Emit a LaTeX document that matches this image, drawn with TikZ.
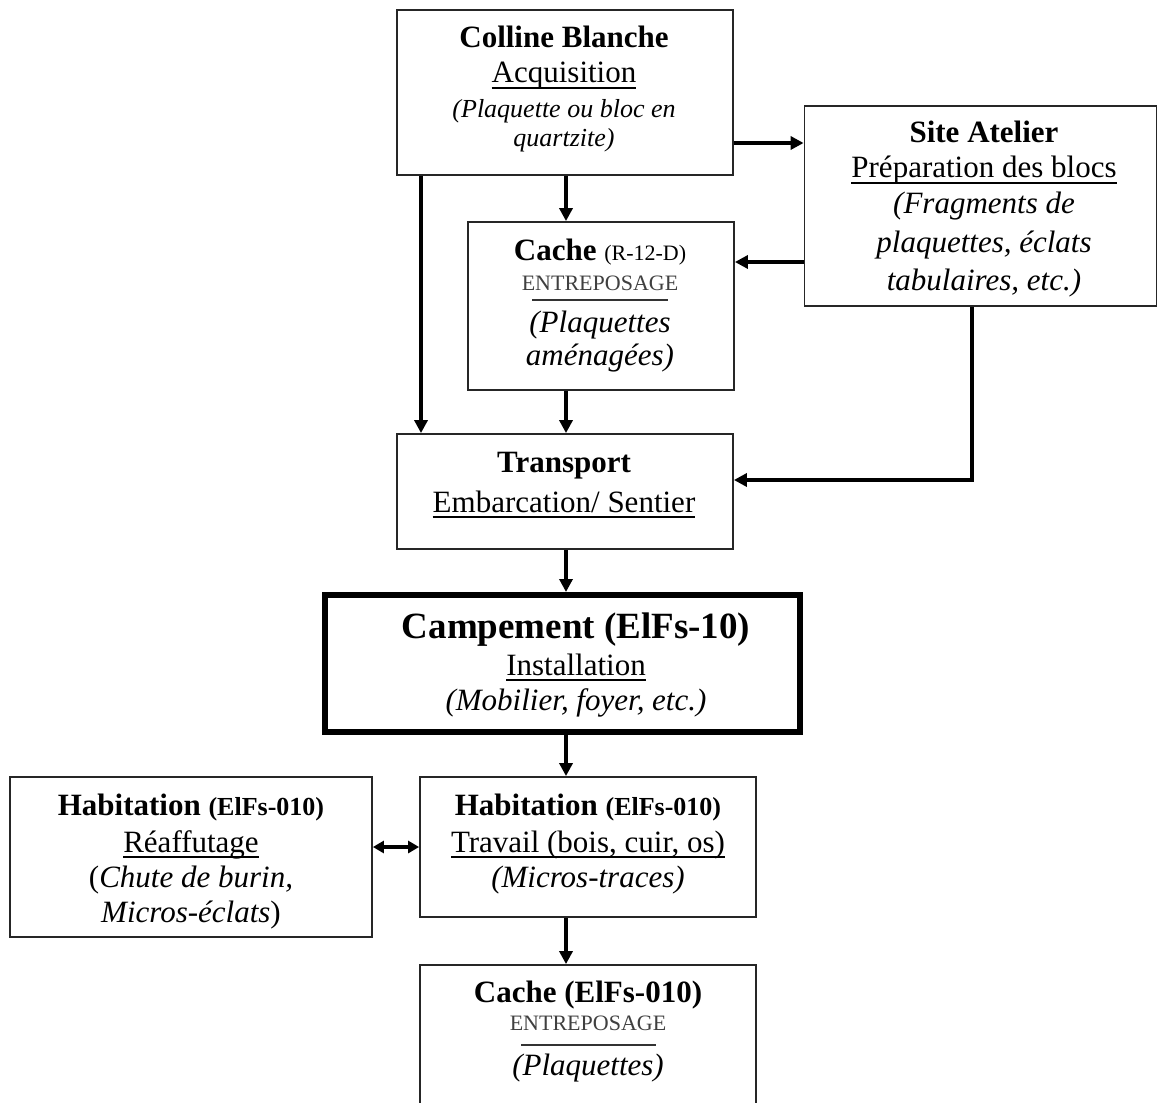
\documentclass[tikz,border=0pt]{standalone}
\usepackage{fontspec}
\setmainfont{Liberation Serif}
\usetikzlibrary{arrows.meta}
\newsavebox\ulboxx
\newcommand\ulx[1]{\sbox\ulboxx{#1}\rlap{\rule[-6pt]{\wd\ulboxx}{1.6pt}}\usebox\ulboxx}
\begin{document}
\begin{tikzpicture}[x=1pt,y=-1pt,
  box/.style={draw=black!85, line width=1.8pt, fill=white, inner sep=0pt},
  bigbox/.style={box, draw=black, line width=6pt},
  t/.style={anchor=base, inner sep=0pt, font=\fontsize{31}{36}\selectfont},
  tb/.style={anchor=base, inner sep=0pt, font=\bfseries\fontsize{31}{36}\selectfont},
  ti/.style={anchor=base, inner sep=0pt, font=\itshape\fontsize{31}{36}\selectfont},
  tis/.style={anchor=base, inner sep=0pt, font=\itshape\fontsize{26}{30}\selectfont},
  tsc/.style={anchor=base, inner sep=0pt, text=black!75, font=\fontsize{22}{26}\selectfont},
  arr/.style={line width=3.5pt, -{Triangle[length=13pt,width=13pt]}},
  darr/.style={line width=3.5pt, {Triangle[length=11pt,width=12pt]}-{Triangle[length=11pt,width=12pt]}},
  rulel/.style={line width=1.6pt, black!80}
]
\useasboundingbox (0,0) rectangle (1158,1102);
\fill[white] (0,0) rectangle (1158,1102);
\clip (0,0) rectangle (1158,1102);

% boxes
\node[box, minimum width=336pt, minimum height=165pt] (cb) at (565,92.5) {};
\node[box, minimum width=352pt, minimum height=200pt] (sa) at (980.5,206) {};
\node[box, minimum width=266pt, minimum height=168pt] (cr) at (601,306) {};
\node[box, minimum width=336pt, minimum height=115pt] (tr) at (565,491.5) {};
\node[bigbox, minimum width=475pt, minimum height=137pt] (cp) at (562.5,663.5) {};
\node[box, minimum width=362pt, minimum height=160pt] (hl) at (191,857) {};
\node[box, minimum width=336pt, minimum height=140pt] (hr) at (588,847) {};
\node[box, minimum width=336pt, minimum height=150pt] (cz) at (588,1040) {};

% Colline Blanche
\node[tb] (cb1) at (564,48) {Colline Blanche};
\node[t]  (cb2) at (564,83) {\ulx{Acquisition}};
\node[tis] (cb3) at (564,118) {(Plaquette ou bloc en};
\node[tis] (cb4) at (564,147) {quartzite)};

% Site Atelier
\node[tb] (sa1) at (984,143) {Site Atelier};
\node[t]  (sa2) at (984,178) {\ulx{Préparation des blocs}};
\node[ti] (sa3) at (984,213) {(Fragments de};
\node[ti] (sa4) at (984,252) {plaquettes, éclats};
\node[ti] (sa5) at (984,290) {tabulaires, etc.)};

% Cache R-12-D
\node[tb] (cr1) at (600,260) {Cache {\mdseries\fontsize{22}{26}\selectfont (R-12-D)}};
\node[tsc] (cr2) at (600,290) {ENTREPOSAGE};
\draw[rulel] (532,300) -- (668,300);
\node[ti] (cr3) at (600,332) {(Plaquettes};
\node[ti] (cr4) at (600,365) {aménagées)};

% Transport
\node[tb] (tr1) at (564,472) {Transport};
\node[t]  (tr2) at (564,512) {\ulx{Embarcation/ Sentier}};

% Campement
\node[anchor=base, inner sep=0pt, font=\bfseries\fontsize{37}{42}\selectfont] (cp1) at (576,638) {Campement (ElFs-10)};
\node[t]  (cp2) at (576,675) {\ulx{Installation}};
\node[ti] (cp3) at (576,710) {(Mobilier, foyer, etc.)};

% Habitation left
\node[tb] (hl1) at (191,815) {Habitation {\fontsize{26}{30}\selectfont (ElFs-010)}};
\node[t]  (hl2) at (191,852) {\ulx{Réaffutage}};
\node[ti] (hl3) at (191,887) {{\upshape(}Chute de burin,};
\node[ti] (hl4) at (191,922) {Micros-éclats{\upshape)}};

% Habitation right
\node[tb] (hr1) at (588,815) {Habitation {\fontsize{26}{30}\selectfont (ElFs-010)}};
\node[t]  (hr2) at (588,852) {\ulx{Travail (bois, cuir, os)}};
\node[ti] (hr3) at (588,887) {(Micros-traces)};

% Cache ElFs-010
\node[tb] (cz1) at (588,1002) {Cache (ElFs-010)};
\node[tsc] (cz2) at (588,1030) {ENTREPOSAGE};
\draw[rulel] (521,1045) -- (656,1045);
\node[ti] (cz3) at (588,1075) {(Plaquettes)};

% connectors
\draw[arr] (cb.east |- 0,143) -- (sa.west |- 0,143);
\draw[arr] (cb.south -| 566,0) -- (cr.north -| 566,0);
\draw[arr] (cb.south -| 421,0) -- (tr.north -| 421,0);
\draw[arr] (sa.west |- 0,262) -- (cr.east |- 0,262);
\draw[arr] (sa.south -| 972,0) |- (tr.east |- 0,480);
\draw[arr] (cr.south -| 566,0) -- (tr.north -| 566,0);
\draw[arr] (tr.south -| 566,0) -- (cp.north -| 566,0);
\draw[arr] (cp.south -| 566,0) -- (hr.north -| 566,0);
\draw[darr] (hl.east |- 0,847) -- (hr.west |- 0,847);
\draw[arr] (hr.south -| 566,0) -- (cz.north -| 566,0);
\end{tikzpicture}
\end{document}
